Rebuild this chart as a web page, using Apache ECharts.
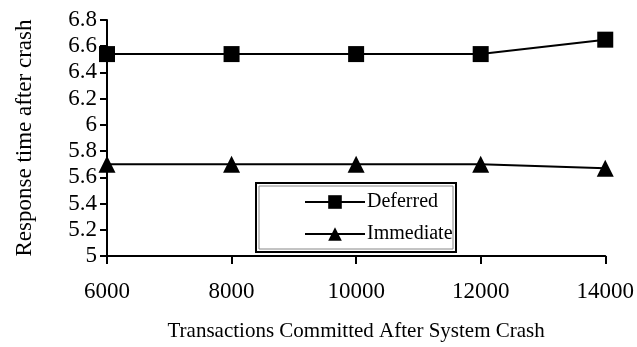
<!DOCTYPE html>
<html>
<head>
<meta charset="utf-8">
<script src="https://cdn.jsdelivr.net/npm/echarts@6/dist/echarts.min.js"></script>
<style>
html,body{margin:0;padding:0;background:#fff;}
#chart{width:637px;height:347px;}
</style>
</head>
<body>
<div id="chart"></div>
<script>
var categories = ['6000', '8000', '10000', '12000', '14000'];
var deferred = [6.54, 6.54, 6.54, 6.54, 6.65];
var immediate = [5.70, 5.70, 5.70, 5.70, 5.67];
var seriesNames = ['Deferred', 'Immediate'];
var xTitle = 'Transactions Committed After System Crash';
var yTitle = 'Response time after crash';

var FONT = '"Liberation Serif", "Times New Roman", serif';
var chart = echarts.init(document.getElementById('chart'), null, {renderer: 'canvas'});
chart.setOption({
  animation: false,
  backgroundColor: '#fff',
  grid: {left: 107, right: 30, top: 20, bottom: 88, containLabel: false},
  xAxis: {
    type: 'category',
    data: categories,
    boundaryGap: false,
    name: xTitle,
    nameLocation: 'middle',
    nameGap: 65,
    nameTextStyle: {fontFamily: FONT, fontSize: 21, color: '#000'},
    axisLine: {lineStyle: {color: '#000', width: 2}},
    axisTick: {show: true, inside: false, length: 8, lineStyle: {color: '#000', width: 2}},
    axisLabel: {fontFamily: FONT, fontSize: 23, color: '#000', margin: 24}
  },
  yAxis: {
    type: 'value',
    min: 5, max: 6.8, interval: 0.2,
    name: yTitle,
    nameLocation: 'middle',
    nameGap: 71,
    nameTextStyle: {fontFamily: FONT, fontSize: 23, color: '#000'},
    splitLine: {show: false},
    axisLine: {show: true, lineStyle: {color: '#000', width: 2}},
    axisTick: {show: true, inside: false, length: 7, lineStyle: {color: '#000', width: 2}},
    axisLabel: {fontFamily: FONT, fontSize: 23, color: '#000', margin: 10}
  },
  legend: {
    orient: 'vertical',
    left: 299,
    top: 187,
    itemWidth: 60,
    itemHeight: 17,
    itemGap: 12,
    textStyle: {fontFamily: FONT, fontSize: 20, color: '#000', padding: [0, 0, 0, -3]},
    data: seriesNames
  },
  graphic: [
    {type: 'rect', shape: {x: 256, y: 183, width: 200, height: 69}, style: {fill: 'none', stroke: '#000', lineWidth: 2}, z: 100},
    {type: 'rect', shape: {x: 259, y: 186, width: 194, height: 63}, style: {fill: 'none', stroke: '#888', lineWidth: 1}, z: 100}
  ],
  series: [
    {
      name: seriesNames[0], type: 'line', data: deferred,
      symbol: 'rect', symbolSize: 16,
      lineStyle: {color: '#000', width: 2},
      itemStyle: {color: '#000'}
    },
    {
      name: seriesNames[1], type: 'line', data: immediate,
      symbol: 'triangle', symbolSize: 17,
      lineStyle: {color: '#000', width: 2},
      itemStyle: {color: '#000'}
    }
  ]
});
</script>
</body>
</html>
